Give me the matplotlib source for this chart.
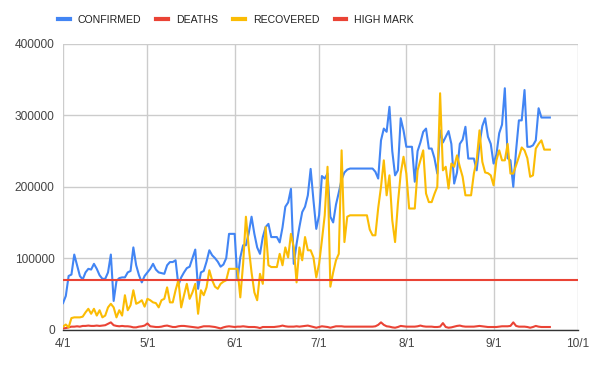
import matplotlib
matplotlib.use("Agg")
import matplotlib.pyplot as plt
import matplotlib.dates as mdates
from matplotlib.lines import Line2D
from matplotlib.ticker import FuncFormatter, MultipleLocator
import numpy as np
import datetime as dt

start_date = "2020-04-01"
end_date = "2020-10-01"

confirmed = [
    37000, 47000, 75000, 77000, 105000, 90000, 75000, 70000, 80000, 85000,
    84000, 92000, 85000, 76000, 71000, 71000, 80000, 105000, 40000, 68000,
    72000, 73000, 73000, 80000, 82000, 115000, 90000, 76000, 66000, 75000,
    80000, 85000, 92000, 84000, 80000, 79000, 78000, 90000, 94500, 94500,
    97000, 62000, 73000, 80000, 86000, 88000, 100000, 112000, 57000, 80000,
    82000, 95000, 111000, 104000, 100000, 95000, 88000, 91000, 100000, 134000,
    134000, 134000, 69000, 101000, 118000, 118000, 135000, 158000, 134000, 115000,
    106000, 129500, 143500, 148000, 129500, 129500, 129500, 122000, 143000, 172000,
    178000, 197000, 92000, 120000, 143500, 164500, 172000, 188000, 225000, 181000,
    141000, 160000, 215000, 211500, 218500, 158000, 150000, 175000, 192000, 210000,
    220000, 224000, 225500, 225500, 225500, 225500, 225500, 225500, 225500, 225500,
    225500, 221000, 211500, 265000, 281500, 277000, 312000, 250000, 216000, 223000,
    296000, 279000, 256000, 256000, 256000, 207000, 250000, 262000, 277000, 281500,
    253500, 253500, 240000, 218500, 279000, 262000, 270000, 278000, 260000, 204500,
    220000, 260000, 266000, 284000, 239500, 239500, 239500, 223000, 260000, 285000,
    296000, 270000, 260000, 232500, 245000, 275000, 287000, 338000, 240000, 237000,
    200000, 251000, 293000, 293000, 335500, 256000, 256000, 258000, 265000, 310000,
    297000, 297000, 297000, 297000,
]

deaths = [
    1500, 2000, 3000, 4000, 4000, 4500, 4000, 5000, 5000, 5500,
    5000, 5000, 5500, 5000, 5500, 6000, 8000, 10000, 6000, 5000,
    4500, 5000, 4500, 4500, 4000, 3000, 3000, 4000, 4500, 5500,
    8500, 4500, 4000, 3500, 3500, 4000, 5000, 5500, 4500, 3500,
    3500, 4500, 5000, 5000, 4500, 4000, 3500, 3000, 2500, 3500,
    4500, 4500, 4500, 4000, 3500, 2500, 1500, 3000, 4000, 4500,
    4000, 3500, 4000, 4000, 4500, 4000, 3500, 3500, 3500, 3000,
    2000, 3500, 3500, 3500, 3500, 3500, 4000, 4500, 5500, 4500,
    4000, 4000, 4000, 4500, 4000, 4500, 5000, 5500, 4500, 3500,
    2500, 3500, 4500, 4000, 3500, 2500, 3500, 4500, 4500, 4500,
    4000, 4000, 4000, 4000, 4000, 4000, 4000, 4000, 4000, 4000,
    4000, 4500, 6500, 10000, 6500, 4500, 4000, 3000, 2500, 3500,
    5000, 4500, 4000, 4000, 4000, 4000, 4500, 5500, 4500, 4000,
    4000, 4000, 3500, 3500, 4000, 9000, 3500, 2500, 3000, 4000,
    5000, 5500, 4500, 4000, 4000, 4000, 4000, 4500, 5000, 4500,
    4000, 3500, 3500, 3500, 3500, 4000, 4500, 4500, 4500, 5000,
    10000, 5000, 4000, 4000, 4000, 3500, 2500, 3500, 5000, 4000,
    3500, 3500, 3500, 3500,
]

recovered = [
    4000, 7000, 3000, 16000, 17000, 17000, 17000, 18000, 24000, 29000,
    22000, 29000, 19500, 27000, 17000, 19500, 31000, 36000, 31000, 17000,
    27000, 19500, 48000, 27000, 34000, 55000, 36000, 38000, 41000, 32000,
    43000, 41000, 38000, 37000, 31000, 41000, 43000, 59000, 38000, 38000,
    55000, 69000, 31000, 48000, 64000, 43000, 52000, 64000, 22000, 55000,
    48000, 59000, 83000, 69000, 60000, 57000, 64000, 67000, 69000, 85000,
    85000, 85000, 85000, 45000, 92000, 158000, 115000, 80000, 52000, 41000,
    78000, 64000, 143500, 90000, 87500, 87500, 87500, 106000, 90000, 115000,
    101000, 134000, 115000, 66000, 115000, 97000, 129500, 111000, 111000, 101000,
    73000, 92000, 125000, 160000, 228000, 60000, 80000, 97000, 106000, 251000,
    122500, 158000, 160000, 160000, 160000, 160000, 160000, 160000, 160000, 140000,
    132000, 132000, 170000, 200000, 237000, 188000, 216000, 153000, 122500, 176500,
    218500, 242000, 218500, 169500, 169500, 169500, 223000, 237000, 251000, 190500,
    178500, 178500, 190000, 200000, 331000, 223000, 228000, 197500, 232500, 228000,
    244000, 228000, 214000, 188000, 188000, 188000, 218500, 237000, 279000, 235000,
    220000, 219000, 216000, 202000, 237000, 251000, 237000, 237000, 260000, 218500,
    218500, 230000, 242000, 255000, 251000, 240000, 214000, 216000, 253500, 260000,
    265000, 252000, 252000, 252000,
]

high_mark = 70000

series_names = ["CONFIRMED", "DEATHS", "RECOVERED", "HIGH MARK"]
colors = ["#4285F4", "#EA4335", "#FBBC04", "#EA4335"]

y_ticks = [0, 100000, 200000, 300000, 400000]

dates = [np.datetime64(start_date) + np.timedelta64(i, "D") for i in range(len(confirmed))]
dates = [d.astype(dt.datetime) for d in dates]
d0 = dt.datetime.fromisoformat(start_date)
d1 = dt.datetime.fromisoformat(end_date)

fig = plt.figure(figsize=(5.95, 3.65), dpi=100)
ax = fig.add_axes([63 / 595, 1 - 329.5 / 365, (578 - 63) / 595, (329.5 - 44) / 365])

lw = 1.5
ax.plot(dates, confirmed, color=colors[0], lw=lw, solid_joinstyle="round", zorder=3)
ax.plot(dates, deaths, color=colors[1], lw=lw, solid_joinstyle="round", zorder=3)
ax.plot(dates, recovered, color=colors[2], lw=lw, solid_joinstyle="round", zorder=3)
ax.plot([d0, d1], [high_mark, high_mark], color=colors[3], lw=lw, zorder=3)

ax.set_xlim(d0, d1)
ax.set_ylim(0, 400000)
ax.set_yticks(y_ticks)
ax.yaxis.set_major_formatter(FuncFormatter(lambda v, p: f"{int(v)}"))
ax.xaxis.set_major_locator(mdates.MonthLocator())
ax.xaxis.set_major_formatter(FuncFormatter(lambda v, p: f"{mdates.num2date(v).month}/{mdates.num2date(v).day}"))

ax.grid(True, color="#cccccc", lw=1.0, zorder=0)
ax.set_axisbelow(True)
for s in ["top", "right", "left"]:
    ax.spines[s].set_visible(False)
ax.spines["bottom"].set_color("#333333")
ax.spines["bottom"].set_linewidth(1.0)
ax.spines["bottom"].set_zorder(4)
ax.tick_params(length=0, labelsize=8.6, colors="#444444")
ax.tick_params(axis="y", pad=6)
ax.tick_params(axis="x", pad=6)

handles = [Line2D([0], [0], color=c, lw=3) for c in colors]
fig.legend(handles, series_names, loc="center left", bbox_to_anchor=(58 / 595, 1 - 20 / 365),
           ncol=4, frameon=False, borderpad=0, borderaxespad=0, handlelength=1.1,
           handletextpad=0.75, columnspacing=1.45,
           prop={"family": "Liberation Sans", "size": 7.6}, labelcolor="#222222")

for lab in ax.get_xticklabels() + ax.get_yticklabels():
    lab.set_family("Liberation Sans")

fig.savefig("out.png", dpi=100)
